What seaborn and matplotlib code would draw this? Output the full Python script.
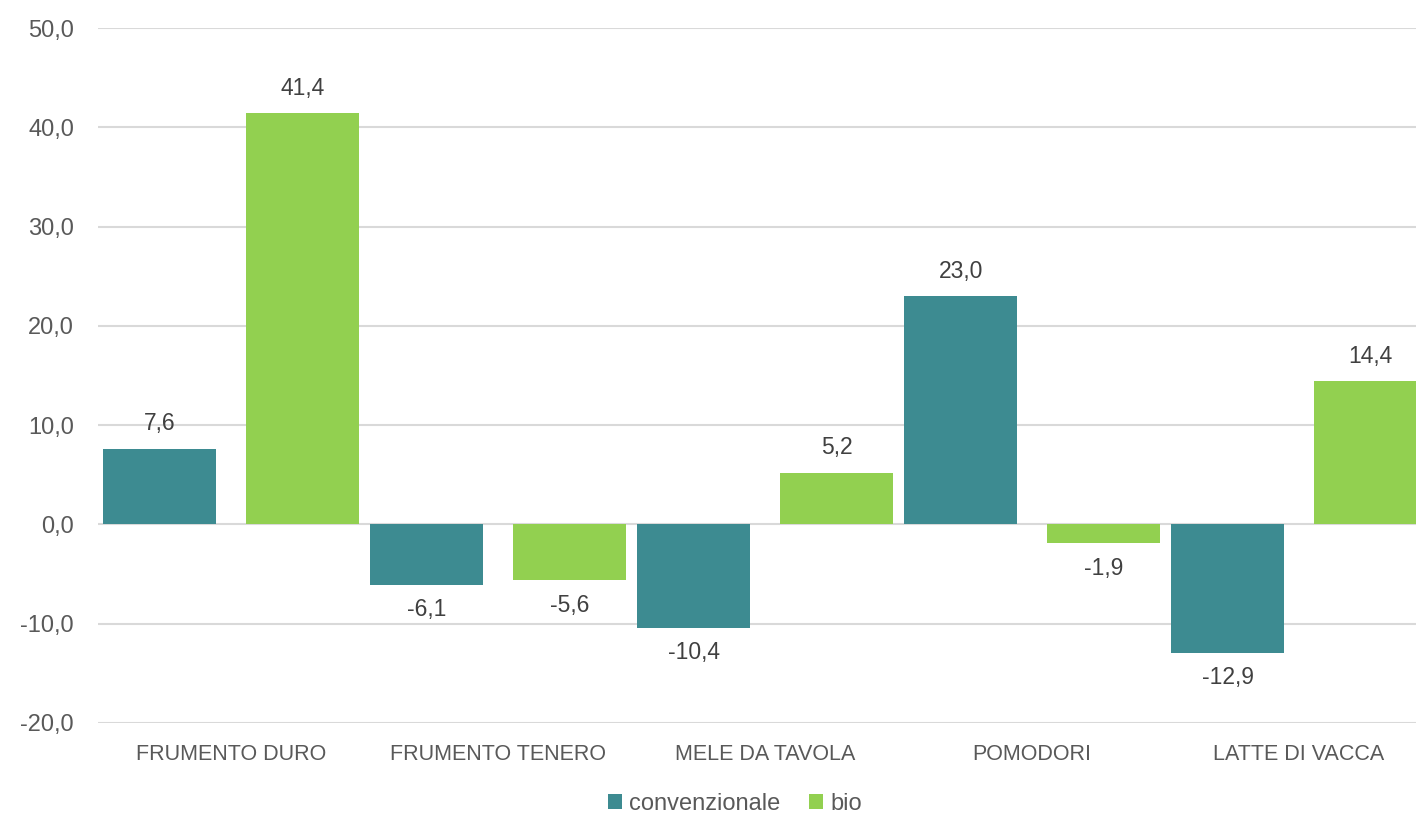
import pandas as pd
import matplotlib
matplotlib.use("Agg")
import matplotlib.pyplot as plt
import seaborn as sns

# Data
categories = ["FRUMENTO DURO", "FRUMENTO TENERO", "MELE DA TAVOLA", "POMODORI", "LATTE DI VACCA"]
convenzionale = [7.6, -6.1, -10.4, 23.0, -12.9]
bio = [41.4, -5.6, 5.2, -1.9, 14.4]
series = ["convenzionale", "bio"]
colors = ["#3D8B91", "#92D050"]

df = pd.DataFrame({
    "categoria": categories * 2,
    "serie": ["convenzionale"] * len(categories) + ["bio"] * len(categories),
    "valore": convenzionale + bio,
})

sns.set_theme(style="white")
plt.rcParams['font.family'] = ['Liberation Sans', 'DejaVu Sans']

fig = plt.figure(figsize=(14.16, 8.18), dpi=100)
ax = fig.add_axes([97.5 / 1416, 95 / 818, 1335 / 1416, 695 / 818])

sns.barplot(
    data=df, x="categoria", y="valore", hue="serie",
    hue_order=series, order=categories, palette=colors,
    width=1.07, gap=0.21, saturation=1, linewidth=0, ax=ax, zorder=3,
)

ax.set_xlim(-0.5, 4.5)
ax.set_ylim(-20, 50)
ax.set_yticks(range(-20, 51, 10))
ax.set_yticklabels([f"{v:.1f}".replace(".", ",") for v in range(-20, 51, 10)])
ax.yaxis.grid(True, color="#D9D9D9", linewidth=1.5, zorder=0)
ax.set_axisbelow(True)
ax.set_xlabel("")
ax.set_ylabel("")
ax.tick_params(axis="y", labelsize=17, labelcolor="#595959", length=0, pad=17)
ax.tick_params(axis="x", labelsize=15.5, labelcolor="#595959", length=0, pad=15)
sns.despine(left=True, bottom=True)

# Value labels
for container in ax.containers:
    for p in container:
        h = p.get_height()
        ax.annotate(
            f"{h:.1f}".replace(".", ","),
            (p.get_x() + p.get_width() / 2, h),
            xytext=(0, 18 if h >= 0 else -18), textcoords="offset points",
            ha="center", va="center", fontsize=16.5, color="#404040",
        )

ax.legend(
    loc="center", bbox_to_anchor=(735 / 1416, 1 - 804 / 818),
    bbox_transform=fig.transFigure, ncol=2, frameon=False,
    fontsize=17, labelcolor="#595959", handlelength=0.6, handleheight=0.6,
    handletextpad=0.3, columnspacing=1.2,
)

fig.savefig("out.png", dpi=100)
plt.close(fig)
